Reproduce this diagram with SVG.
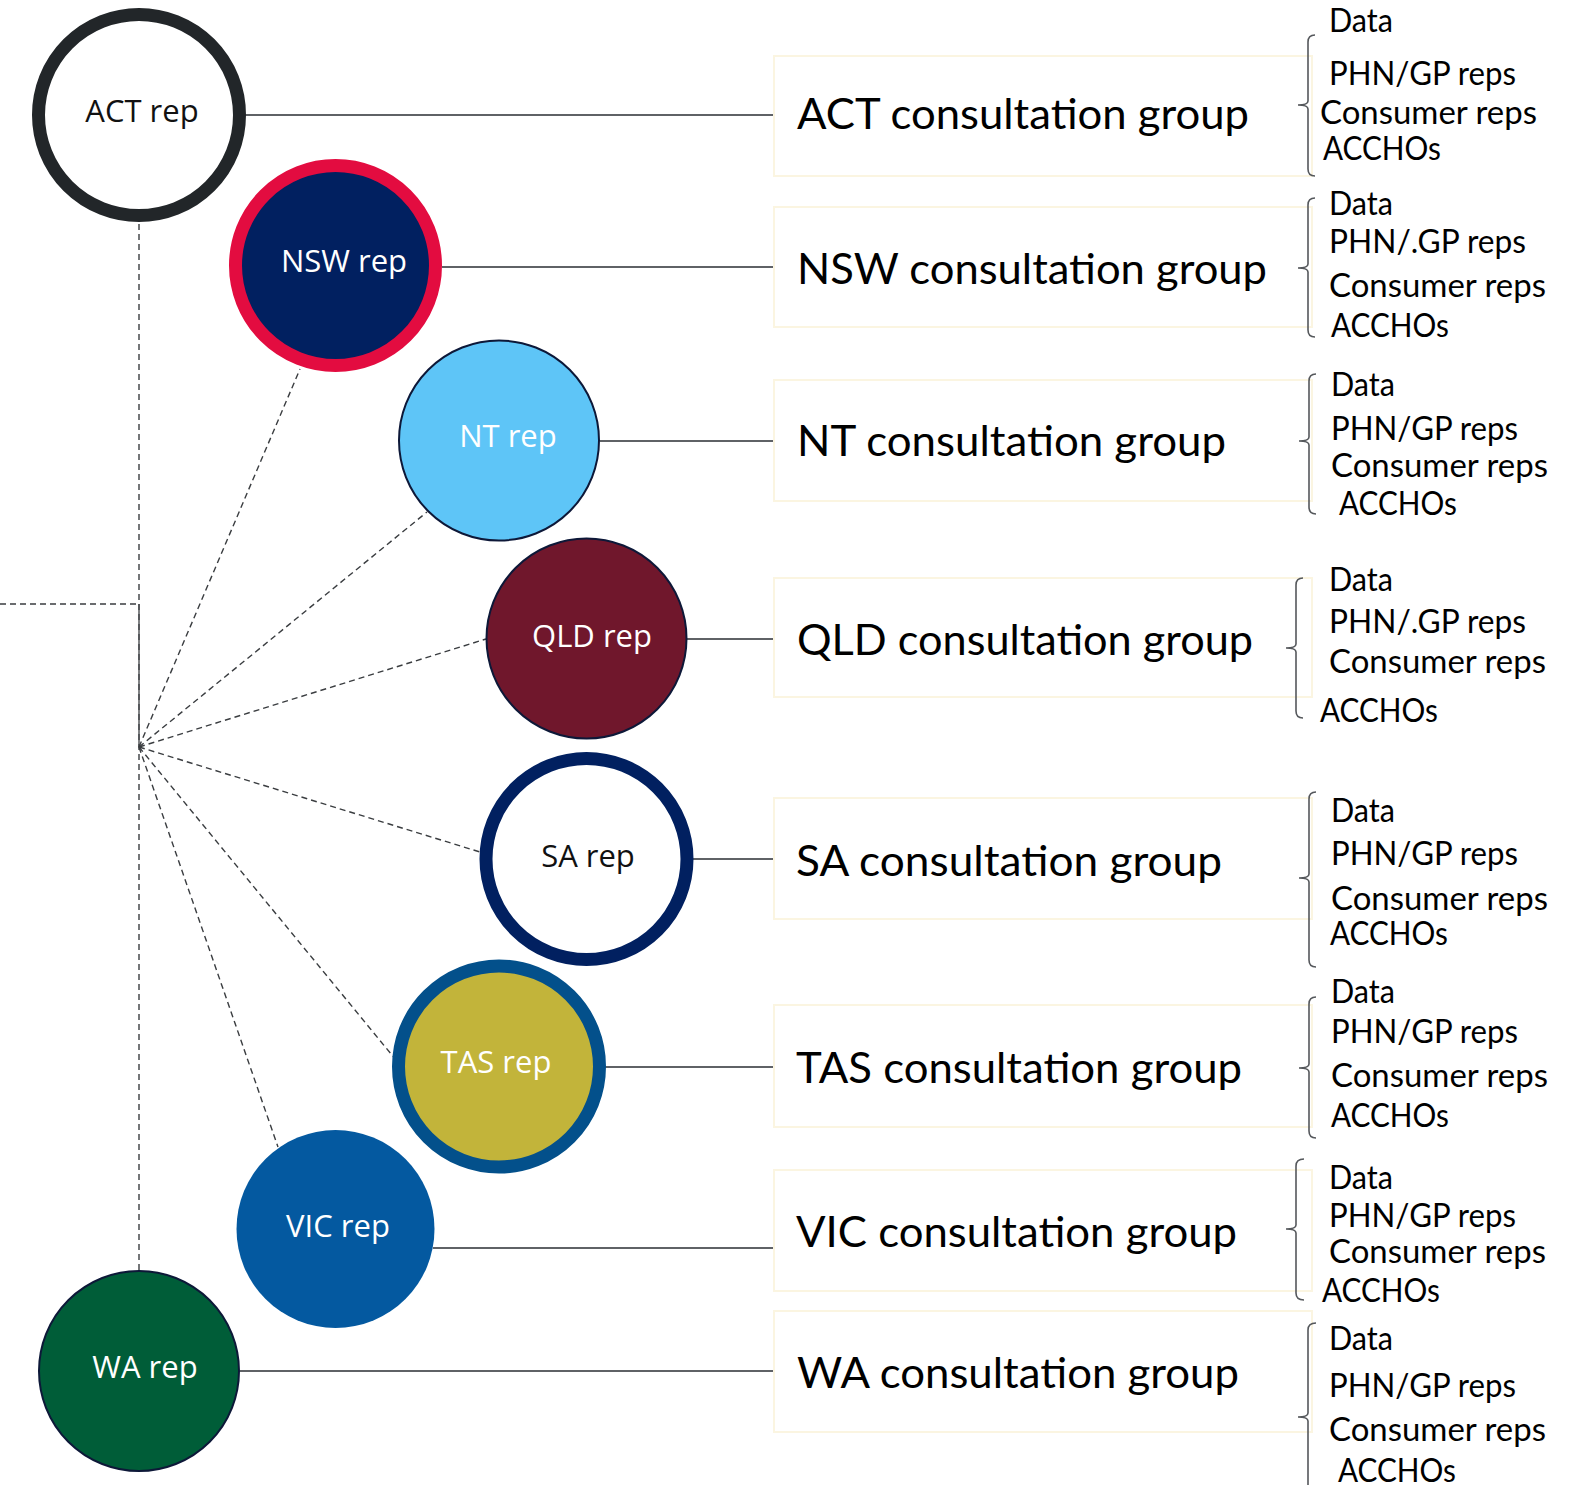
<svg xmlns="http://www.w3.org/2000/svg" width="1587" height="1485" viewBox="0 0 1587 1485">
  <style>
    .rep { font-family: "Open Sans", "Noto Sans", sans-serif; font-size: 31px; text-anchor: middle; }
    .light { fill: #ffffff; }
    .dark { fill: #111111; }
    .title { font-family: Lato, "Noto Sans", sans-serif; font-size: 43px; fill: #000000; }
    .item { font-family: Lato, "Noto Sans", sans-serif; font-size: 32px; fill: #000000; }
    .box { fill: #ffffff; stroke: #fbf5e1; stroke-width: 2; }
    .link { stroke: #5f6266; stroke-width: 2; fill: none; }
    .dash { stroke: #3a3d40; stroke-width: 1.4; stroke-dasharray: 6 4; fill: none; }
    .brace { stroke: #55585c; stroke-width: 1.6; fill: none; }
  </style>
  <rect width="1587" height="1485" fill="#ffffff"/>

  <!-- connectors -->
  <g id="connectors">
    <line class="dash" x1="139" y1="224" x2="139" y2="1270"/>
    <line class="dash" x1="0" y1="604" x2="139" y2="604"/>
    <line x1="139" y1="604" x2="139" y2="747" stroke="#4a4d50" stroke-width="1.4"/>
    <line class="dash" x1="139" y1="747" x2="300" y2="369"/>
    <line class="dash" x1="139" y1="747" x2="427" y2="512"/>
    <line class="dash" x1="139" y1="747" x2="486" y2="639"/>
    <line class="dash" x1="139" y1="747" x2="480" y2="852"/>
    <line class="dash" x1="139" y1="747" x2="396" y2="1060"/>
    <line class="dash" x1="139" y1="747" x2="278" y2="1147"/>
    <line class="link" x1="245" y1="115" x2="774" y2="115"/>
    <line class="link" x1="442" y1="267" x2="774" y2="267"/>
    <line class="link" x1="600" y1="441" x2="774" y2="441"/>
    <line class="link" x1="687" y1="639" x2="774" y2="639"/>
    <line class="link" x1="686" y1="859" x2="774" y2="859"/>
    <line class="link" x1="600" y1="1067" x2="774" y2="1067"/>
    <line class="link" x1="433" y1="1248" x2="774" y2="1248"/>
    <line class="link" x1="240" y1="1371" x2="774" y2="1371"/>
  </g>

  <!-- state representatives -->
  <g id="act-rep">
    <circle cx="139" cy="115" r="100.5" fill="#ffffff" stroke="#222629" stroke-width="13"/>
    <text class="rep dark" x="142" y="122">ACT rep</text>
  </g>
  <g id="nsw-rep">
    <circle cx="335.5" cy="265.5" r="100" fill="#012060" stroke="#e30c40" stroke-width="13"/>
    <text class="rep light" x="344" y="272">NSW rep</text>
  </g>
  <g id="nt-rep">
    <circle cx="499" cy="440.5" r="100" fill="#5ec5f7" stroke="#0d1838" stroke-width="2"/>
    <text class="rep light" x="508" y="447">NT rep</text>
  </g>
  <g id="qld-rep">
    <circle cx="586.5" cy="638.5" r="100" fill="#70172c" stroke="#0d1838" stroke-width="2"/>
    <text class="rep light" x="592" y="647">QLD rep</text>
  </g>
  <g id="sa-rep">
    <circle cx="586.5" cy="859" r="100.5" fill="#ffffff" stroke="#012060" stroke-width="13"/>
    <text class="rep dark" x="588" y="867">SA rep</text>
  </g>
  <g id="tas-rep">
    <circle cx="499" cy="1066.5" r="100.5" fill="#c2b43a" stroke="#03508b" stroke-width="13"/>
    <text class="rep light" x="496" y="1073">TAS rep</text>
  </g>
  <g id="vic-rep">
    <circle cx="335.5" cy="1229" r="99" fill="#0459a0"/>
    <text class="rep light" x="338" y="1237">VIC rep</text>
  </g>
  <g id="wa-rep">
    <circle cx="139" cy="1371" r="100" fill="#005d38" stroke="#0d1838" stroke-width="2"/>
    <text class="rep light" x="145" y="1378">WA rep</text>
  </g>

  <!-- consultation groups -->
  <g id="act-group">
    <rect class="box" x="774" y="56" width="538" height="120"/>
    <text class="title" x="797" y="129" textLength="452" lengthAdjust="spacingAndGlyphs">ACT consultation group</text>
  </g>
  <g id="nsw-group">
    <rect class="box" x="774" y="207" width="538" height="120"/>
    <text class="title" x="797" y="284" textLength="470" lengthAdjust="spacingAndGlyphs">NSW consultation group</text>
  </g>
  <g id="nt-group">
    <rect class="box" x="774" y="380" width="538" height="121"/>
    <text class="title" x="797" y="456" textLength="429" lengthAdjust="spacingAndGlyphs">NT consultation group</text>
  </g>
  <g id="qld-group">
    <rect class="box" x="774" y="578" width="538" height="119"/>
    <text class="title" x="797" y="655" textLength="456" lengthAdjust="spacingAndGlyphs">QLD consultation group</text>
  </g>
  <g id="sa-group">
    <rect class="box" x="774" y="798" width="538" height="121"/>
    <text class="title" x="796" y="876" textLength="426" lengthAdjust="spacingAndGlyphs">SA consultation group</text>
  </g>
  <g id="tas-group">
    <rect class="box" x="774" y="1005" width="538" height="122"/>
    <text class="title" x="796" y="1083" textLength="446" lengthAdjust="spacingAndGlyphs">TAS consultation group</text>
  </g>
  <g id="vic-group">
    <rect class="box" x="774" y="1170" width="538" height="121"/>
    <text class="title" x="796" y="1247" textLength="441" lengthAdjust="spacingAndGlyphs">VIC consultation group</text>
  </g>
  <g id="wa-group">
    <rect class="box" x="774" y="1311" width="538" height="121"/>
    <text class="title" x="797" y="1388" textLength="442" lengthAdjust="spacingAndGlyphs">WA consultation group</text>
  </g>

  <!-- member lists with braces -->
  <g id="act-members">
    <path class="brace" d="M1315 35 Q1308 35 1308 42 L1308 101 Q1308 105 1298 105 Q1308 105 1308 109 L1308 169 Q1308 176 1315 176"/>
    <text class="item" x="1329" y="32" textLength="64" lengthAdjust="spacingAndGlyphs">Data</text>
    <text class="item" x="1329" y="85" textLength="187" lengthAdjust="spacingAndGlyphs">PHN/GP reps</text>
    <text class="item" x="1320" y="124" textLength="217" lengthAdjust="spacingAndGlyphs">Consumer reps</text>
    <text class="item" x="1323" y="160" textLength="118" lengthAdjust="spacingAndGlyphs">ACCHOs</text>
  </g>
  <g id="nsw-members">
    <path class="brace" d="M1315 198 Q1308 198 1308 205 L1308 264 Q1308 268 1298 268 Q1308 268 1308 272 L1308 330 Q1308 337 1315 337"/>
    <text class="item" x="1329" y="215" textLength="64" lengthAdjust="spacingAndGlyphs">Data</text>
    <text class="item" x="1329" y="253" textLength="197" lengthAdjust="spacingAndGlyphs">PHN/.GP reps</text>
    <text class="item" x="1329" y="297" textLength="217" lengthAdjust="spacingAndGlyphs">Consumer reps</text>
    <text class="item" x="1331" y="337" textLength="118" lengthAdjust="spacingAndGlyphs">ACCHOs</text>
  </g>
  <g id="nt-members">
    <path class="brace" d="M1316 374 Q1309 374 1309 381 L1309 437 Q1309 441 1299 441 Q1309 441 1309 445 L1309 507 Q1309 514 1316 514"/>
    <text class="item" x="1331" y="396" textLength="64" lengthAdjust="spacingAndGlyphs">Data</text>
    <text class="item" x="1331" y="440" textLength="187" lengthAdjust="spacingAndGlyphs">PHN/GP reps</text>
    <text class="item" x="1331" y="477" textLength="217" lengthAdjust="spacingAndGlyphs">Consumer reps</text>
    <text class="item" x="1339" y="515" textLength="118" lengthAdjust="spacingAndGlyphs">ACCHOs</text>
  </g>
  <g id="qld-members">
    <path class="brace" d="M1303 578 Q1296 578 1296 585 L1296 644 Q1296 648 1286 648 Q1296 648 1296 652 L1296 711 Q1296 718 1303 718"/>
    <text class="item" x="1329" y="591" textLength="64" lengthAdjust="spacingAndGlyphs">Data</text>
    <text class="item" x="1329" y="633" textLength="197" lengthAdjust="spacingAndGlyphs">PHN/.GP reps</text>
    <text class="item" x="1329" y="673" textLength="217" lengthAdjust="spacingAndGlyphs">Consumer reps</text>
    <text class="item" x="1320" y="722" textLength="118" lengthAdjust="spacingAndGlyphs">ACCHOs</text>
  </g>
  <g id="sa-members">
    <path class="brace" d="M1316 792 Q1309 792 1309 799 L1309 874 Q1309 878 1299 878 Q1309 878 1309 882 L1309 960 Q1309 967 1316 967"/>
    <text class="item" x="1331" y="822" textLength="64" lengthAdjust="spacingAndGlyphs">Data</text>
    <text class="item" x="1331" y="865" textLength="187" lengthAdjust="spacingAndGlyphs">PHN/GP reps</text>
    <text class="item" x="1331" y="910" textLength="217" lengthAdjust="spacingAndGlyphs">Consumer reps</text>
    <text class="item" x="1330" y="945" textLength="118" lengthAdjust="spacingAndGlyphs">ACCHOs</text>
  </g>
  <g id="tas-members">
    <path class="brace" d="M1316 997 Q1309 997 1309 1004 L1309 1064 Q1309 1068 1299 1068 Q1309 1068 1309 1072 L1309 1131 Q1309 1138 1316 1138"/>
    <text class="item" x="1331" y="1003" textLength="64" lengthAdjust="spacingAndGlyphs">Data</text>
    <text class="item" x="1331" y="1043" textLength="187" lengthAdjust="spacingAndGlyphs">PHN/GP reps</text>
    <text class="item" x="1331" y="1087" textLength="217" lengthAdjust="spacingAndGlyphs">Consumer reps</text>
    <text class="item" x="1331" y="1127" textLength="118" lengthAdjust="spacingAndGlyphs">ACCHOs</text>
  </g>
  <g id="vic-members">
    <path class="brace" d="M1304 1159 Q1296 1159 1296 1166 L1296 1225 Q1296 1229 1286 1229 Q1296 1229 1296 1233 L1296 1293 Q1296 1300 1304 1300"/>
    <text class="item" x="1329" y="1189" textLength="64" lengthAdjust="spacingAndGlyphs">Data</text>
    <text class="item" x="1329" y="1227" textLength="187" lengthAdjust="spacingAndGlyphs">PHN/GP reps</text>
    <text class="item" x="1329" y="1263" textLength="217" lengthAdjust="spacingAndGlyphs">Consumer reps</text>
    <text class="item" x="1322" y="1302" textLength="118" lengthAdjust="spacingAndGlyphs">ACCHOs</text>
  </g>
  <g id="wa-members">
    <path class="brace" d="M1316 1323 Q1308 1323 1308 1330 L1308 1413 Q1308 1417 1298 1417 Q1308 1417 1308 1421 L1308 1495"/>
    <text class="item" x="1329" y="1350" textLength="64" lengthAdjust="spacingAndGlyphs">Data</text>
    <text class="item" x="1329" y="1397" textLength="187" lengthAdjust="spacingAndGlyphs">PHN/GP reps</text>
    <text class="item" x="1329" y="1441" textLength="217" lengthAdjust="spacingAndGlyphs">Consumer reps</text>
    <text class="item" x="1338" y="1482" textLength="118" lengthAdjust="spacingAndGlyphs">ACCHOs</text>
  </g>
</svg>
